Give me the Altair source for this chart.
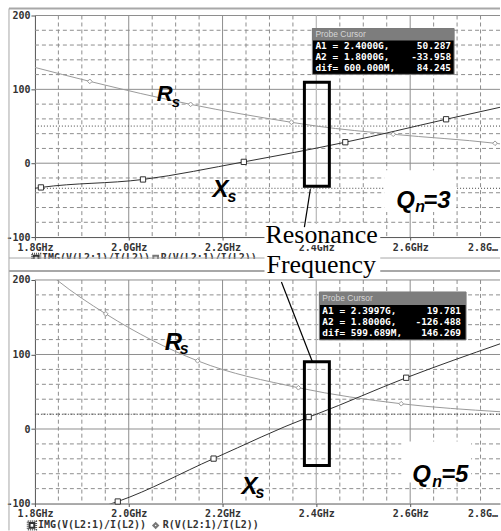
import altair as alt
import pandas as pd

# ---------------------------------------------------------------- axes
F_LO, F_HI = 1.8, 2.7915          # GHz shown in each window
V_LO, V_HI = -100, 200            # ohms
PANEL_W = 466
TOP_H, BOT_H = 222, 224
GAP = 43

x_ticks = [1.8, 2.0, 2.2, 2.4, 2.6]
y_ticks = [-100, 0, 100, 200]
x_major = [2.0, 2.2, 2.4, 2.6]
x_minor = [1.85, 1.9, 1.95, 2.05, 2.1, 2.15, 2.25, 2.3, 2.35,
           2.45, 2.5, 2.55, 2.65, 2.7, 2.75]
y_major = [0, 100, 200]
y_minor = [-80, -60, -40, -20, 20, 40, 60, 80, 120, 140, 160, 180]

# ---------------------------------------------------------------- Qn = 3
q3_xs_f = [1.8, 1.8128, 2.0304, 2.2453, 2.4617, 2.6766, 2.7915]
q3_xs_v = [-33.958, -32.8, -22.0, 1.8, 28.4, 59.5, 75.7]
q3_xs_mark = [0, 1, 1, 1, 1, 1, 0]
q3_rs_f = [1.8, 1.917, 2.1319, 2.3468, 2.4, 2.5638, 2.7809, 2.7915]
q3_rs_v = [129.7, 110.8, 79.7, 55.4, 50.287, 39.2, 27.0, 26.2]
q3_rs_mark = [0, 1, 1, 1, 0, 1, 1, 0]
q3_cursor_v = [50.287, -33.958]
q3_cursor_f = 2.4
q3_probe = [("A1 =   2.4000G,", "50.287"),
            ("A2 =   1.8000G,", "-33.958"),
            ("dif= 600.000M,", "84.245")]

# ---------------------------------------------------------------- Qn = 5
q5_xs_f = [1.8, 1.9766, 2.1809, 2.3836, 2.3997, 2.5915, 2.7915]
q5_xs_v = [-126.488, -97.3, -39.7, 16.0, 19.781, 68.8, 114.3]
q5_xs_mark = [0, 1, 1, 1, 0, 1, 0]
q5_rs_f = [1.8, 1.8468, 1.9511, 2.1468, 2.3617, 2.5809, 2.7915]
q5_rs_v = [225.0, 200.0, 154.5, 91.5, 55.4, 33.9, 23.2]
q5_rs_mark = [0, 0, 1, 1, 1, 1, 0]
q5_cursor_v = [19.781, -126.488]
q5_cursor_f = 2.3997
q5_probe = [("A1 =   2.3997G,", "19.781"),
            ("A2 =   1.8000G,", "-126.488"),
            ("dif= 599.689M,", "146.269")]

legend_img = "IMG(V(L2:1)/I(L2))"
legend_r = "R(V(L2:1)/I(L2))"

MONO = "DejaVu Sans Mono"
SANS = "Liberation Sans"
SERIF = "Liberation Serif"
GRID = "#8e8e8e"
FRAME = "#a8a8a8"
XS_COL = "#303030"
RS_COL = "#9a9a9a"

x_enc = alt.X("f:Q",
              scale=alt.Scale(domain=[F_LO, F_HI], nice=False, zero=False),
              axis=alt.Axis(values=x_ticks, title=None, grid=False,
                            labelExpr="format(datum.value, '.1f') + 'GHz'",
                            labelFont=MONO, labelFontWeight="bold",
                            labelFontSize=10, labelColor="#333",
                            labelFlush=False, labelOverlap=False,
                            domainColor="#555", tickColor="#555",
                            tickSize=3, labelPadding=2))
y_enc = alt.Y("v:Q",
              scale=alt.Scale(domain=[V_LO, V_HI], nice=False, zero=False),
              axis=alt.Axis(values=y_ticks, title=None, grid=False,
                            labelExpr="'' + datum.value",
                            labelFont=MONO, labelFontWeight="bold",
                            labelFontSize=10, labelColor="#333",
                            labelFlush=False, labelOverlap=False,
                            domainColor="#555", tickColor="#555",
                            tickSize=4, labelPadding=1))
x2_enc = alt.X2("f2:Q")
y2_enc = alt.Y2("v2:Q")
ONE = pd.DataFrame({"k": [0]})


def rects(rows, **mark):
    df = pd.DataFrame(rows, columns=["f", "f2", "v", "v2"])
    return alt.Chart(df).mark_rect(**mark).encode(x=x_enc, x2=x2_enc, y=y_enc, y2=y2_enc)


def segs(rows, **mark):
    df = pd.DataFrame(rows, columns=["f", "f2", "v", "v2"])
    return alt.Chart(df).mark_rule(**mark).encode(x=x_enc, x2=x2_enc, y=y_enc, y2=y2_enc)


def texts(rows, **mark):
    df = pd.DataFrame(rows, columns=["f", "v", "t"])
    return alt.Chart(df).mark_text(**mark).encode(x=x_enc, y=y_enc, text="t:N")


def pix_rule(x, x2, y, y2, color=FRAME, width=1):
    return alt.Chart(ONE).mark_rule(color=color, strokeWidth=width).encode(
        x=alt.value(x), x2=alt.value(x2), y=alt.value(y), y2=alt.value(y2))


def grid_layers():
    vmin = alt.Chart(pd.DataFrame({"f": x_minor})).mark_rule(
        color=GRID, strokeDash=[4, 3], strokeWidth=1).encode(x=x_enc)
    hmin = alt.Chart(pd.DataFrame({"v": y_minor})).mark_rule(
        color=GRID, strokeDash=[4, 3], strokeWidth=1).encode(y=y_enc)
    vmaj = alt.Chart(pd.DataFrame({"f": x_major})).mark_rule(
        color=GRID, strokeWidth=1).encode(x=x_enc)
    hmaj = alt.Chart(pd.DataFrame({"v": y_major})).mark_rule(
        color=GRID, strokeWidth=1).encode(y=y_enc)
    return [vmin, hmin, vmaj, hmaj]


def cursor_layers(levels, f_cursor):
    hl = alt.Chart(pd.DataFrame({"v": levels})).mark_rule(
        color="#444", strokeDash=[1, 2], strokeWidth=1, clip=True).encode(y=y_enc)
    vl = alt.Chart(pd.DataFrame({"f": [f_cursor]})).mark_rule(
        color="#c4c4c4", strokeWidth=1).encode(x=x_enc)
    return [hl, vl]


def trace_layers(f, v, m, color, shape, size):
    df = pd.DataFrame({"f": f, "v": v, "m": m})
    line = alt.Chart(df).mark_line(color=color, strokeWidth=1, clip=True,
                                   interpolate="monotone").encode(x=x_enc, y=y_enc)
    pts = alt.Chart(df).transform_filter("datum.m == 1").mark_point(
        shape=shape, filled=True, fill="white", color=color, stroke=color,
        strokeWidth=1, size=size, opacity=1).encode(x=x_enc, y=y_enc)
    return [line, pts]


def probe_layers(box, bar, x_left, x_right, base_vals, rows, title_v):
    f0, f1, v0, v1 = box
    out = [rects([(f0, f1, v0, v1)], color="black", stroke="#7a7a7a", strokeWidth=1),
           rects([(f0, f1, v0, bar)], color="#7d7d7d")]
    out.append(texts([(x_left, title_v, "Probe Cursor")], font=SANS, fontSize=8.5,
                     color="#d6d6d6", align="left", baseline="middle"))
    out.append(texts([(x_left, bv, r[0]) for bv, r in zip(base_vals, rows)],
                     font=MONO, fontWeight="bold", fontSize=9.5, color="white",
                     align="left", baseline="alphabetic"))
    out.append(texts([(x_right, bv, r[1]) for bv, r in zip(base_vals, rows)],
                     font=MONO, fontWeight="bold", fontSize=9.5, color="white",
                     align="right", baseline="alphabetic"))
    return out


def qn_layers(box, q_pos, n_pos, eq_pos, eq_text):
    style = dict(font=SANS, fontStyle="italic", fontWeight="bold",
                 align="left", color="black")
    return [rects([box], color="white"),
            texts([(q_pos[0], q_pos[1], "Q")], fontSize=24, **style),
            texts([(n_pos[0], n_pos[1], "n")], fontSize=16, **style),
            texts([(eq_pos[0], eq_pos[1], eq_text)], fontSize=24, **style)]


def sym_layers(main, sub, big, small, pos_main, pos_sub):
    return [texts([(pos_main[0], pos_main[1], main)], font=SANS, fontSize=big,
                  fontStyle="italic", fontWeight="bold", align="left", color="black"),
            texts([(pos_sub[0], pos_sub[1], sub)], font=SANS, fontSize=small,
                  fontStyle="italic", fontWeight="bold", align="left", color="black")]


def legend_layers(v, icon_img, txt_img, icon_r, txt_r, r_shape):
    icons = [
        alt.Chart(pd.DataFrame({"f": [icon_img], "v": [v]})).mark_point(
            shape="square", filled=False, color="#555", size=70,
            strokeDash=[1, 1], opacity=1).encode(x=x_enc, y=y_enc),
        alt.Chart(pd.DataFrame({"f": [icon_img], "v": [v]})).mark_point(
            shape="square", filled=False, color="#333", size=22,
            opacity=1).encode(x=x_enc, y=y_enc),
        alt.Chart(pd.DataFrame({"f": [icon_r], "v": [v]})).mark_point(
            shape=r_shape, filled=False, color="#777", size=22,
            opacity=1).encode(x=x_enc, y=y_enc),
    ]
    words = texts([(txt_img, v, legend_img), (txt_r, v, legend_r)],
                  font=MONO, fontWeight="bold", fontSize=10, color="#333",
                  align="left", baseline="middle")
    return icons + [words]


def edge_label(v):
    # last tick label, pushed in from the window edge and cut by it
    return texts([(2.7234, v, "2.8GHz")], font=MONO, fontWeight="bold",
                 fontSize=10, color="#333", align="left", baseline="middle",
                 limit=33, ellipsis="")


# ================================================================ top window
top_layers = [
    # invisible sheet that fixes the page extent
    alt.Chart(ONE).mark_rect(color="white", opacity=0).encode(
        x=alt.value(-35), x2=alt.value(PANEL_W), y=alt.value(-15), y2=alt.value(516)),
]
top_layers += grid_layers()
top_layers += cursor_layers(q3_cursor_v, q3_cursor_f)
top_layers += trace_layers(q3_rs_f, q3_rs_v, q3_rs_mark, RS_COL, "diamond", 22)
top_layers += trace_layers(q3_xs_f, q3_xs_v, q3_xs_mark, XS_COL, "square", 28)
top_layers += qn_layers((2.5447, 2.6979, -9.5, -66.2), (2.5702, -51.4),
                        (2.6106, -59.5), (2.6277, -51.4), "=3")
top_layers += sym_layers("R", "s", 22, 15, (2.0596, 93.2), (2.0915, 82.4))
top_layers += sym_layers("X", "s", 24, 16, (2.1787, -36.5), (2.2106, -45.9))
top_layers += probe_layers((2.3915, 2.6936, 182.4, 120.3), 166.2, 2.3979, 2.6872,
                           [154.1, 139.2, 124.3], q3_probe, 174.3)
top_layers += [
    rects([(2.3745, 2.4277, 109.5, -31.1)], fillOpacity=0, stroke="black", strokeWidth=3),
    rects([(2.2894, 2.5362, -82.4, -110.8)], color="white"),
    segs([(2.3872, 2.3745, -35.1, -86.5)], color="black", strokeWidth=1.2),
    texts([(2.2915, -108.1, "Resonance")], font=SERIF, fontSize=26,
          align="left", baseline="alphabetic", color="black"),
    edge_label(-114.9),
]
top_layers += legend_layers(-128.4, 1.8026, 1.8149, 2.0574, 2.0681, "square")
top_layers += [
    pix_rule(-26, PANEL_W, -7, -7, width=2),
    pix_rule(-26, -26, -7, 243),
]
top = alt.layer(*top_layers).properties(width=PANEL_W, height=TOP_H)

# ================================================================ bottom window
bot_layers = [
    alt.Chart(ONE).mark_rect(color="white").encode(
        x=alt.value(-35), x2=alt.value(PANEL_W), y=alt.value(-21), y2=alt.value(-9)),
    pix_rule(-26, PANEL_W, -22, -22),
    pix_rule(-26, PANEL_W, -9, -9, width=2),
    pix_rule(-26, -26, -22, 251),
]
bot_layers += grid_layers()
bot_layers += cursor_layers(q5_cursor_v, q5_cursor_f)
bot_layers += trace_layers(q5_rs_f, q5_rs_v, q5_rs_mark, RS_COL, "diamond", 22)
bot_layers += trace_layers(q5_xs_f, q5_xs_v, q5_xs_mark, XS_COL, "square", 28)
bot_layers += qn_layers((2.5809, 2.7298, -16.9, -71.9), (2.6043, -61.1),
                        (2.6468, -70.5), (2.666, -61.1), "=5")
bot_layers += sym_layers("R", "s", 24, 16, (2.0766, 115.6), (2.1085, 107.6))
bot_layers += sym_layers("X", "s", 24, 16, (2.2404, -77.2), (2.2702, -85.3))
bot_layers += probe_layers((2.4064, 2.7191, 183.9, 119.6), 166.5, 2.4128, 2.7085,
                           [153.8, 139.1, 124.3], q5_probe, 175.2)
bot_layers += [
    rects([(2.3745, 2.4277, 90.2, -49.1)], fillOpacity=0, stroke="black", strokeWidth=3),
    rects([(2.2894, 2.5362, 230.8, 202.7)], color="white"),
    segs([(2.3255, 2.3915, 197.3, 90.2)], color="black", strokeWidth=1.2),
    texts([(2.2936, 209.4, "Frequency")], font=SERIF, fontSize=26,
          align="left", baseline="alphabetic", color="black"),
    edge_label(-114.7),
]
bot_layers += legend_layers(-129.4, 1.7936, 1.8064, 2.0574, 2.0723, "diamond")
bottom = alt.layer(*bot_layers).properties(width=PANEL_W, height=BOT_H)

chart = (
    alt.vconcat(top, bottom, spacing=GAP, bounds="flush")
    .resolve_scale(x="independent", y="independent")
    .properties(padding=0, background="white")
    .configure_view(strokeWidth=0)
)

chart.save("out.html", embed_options={"renderer": "svg", "actions": False})
